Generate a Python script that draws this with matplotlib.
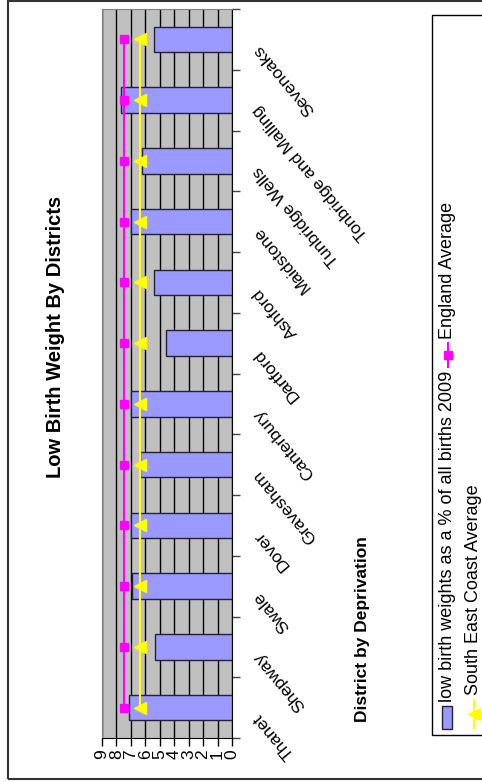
import matplotlib
matplotlib.use("Agg")

import numpy as np
import matplotlib.pyplot as plt
from matplotlib.patches import Rectangle
from matplotlib.lines import Line2D

# dane: odsetek urodzeń z niską masą (2009), od najbardziej deprywowanego dystryktu
districts = ["Thanet", "Shepway", "Swale", "Dover", "Gravesham", "Canterbury",
             "Dartford", "Ashford", "Maidstone", "Tunbridge Wells",
             "Tonbridge and Malling", "Sevenoaks"]
low_birth_pct = [7.1, 5.3, 6.9, 7.0, 6.4, 7.0, 4.6, 5.4, 7.0, 6.2, 7.7, 5.4]
england_avg = 7.5
se_coast_avg = 6.4
value_ticks = list(range(10))

W, H = 482, 782
plt.rcParams["font.family"] = ["Liberation Sans", "DejaVu Sans"]


def fx(x):
    return x / W


def fy(y):
    return 1 - y / H


fig = plt.figure(figsize=(W / 100, H / 100), dpi=100, facecolor="white")

# ramka całego wykresu
fig.patches.append(Rectangle((fx(8), fy(779)), fx(490) - fx(8), fy(1) - fy(779),
                             transform=fig.transFigure, fill=False,
                             edgecolor="#333333", lw=1.5, clip_on=False))

ax = fig.add_axes([fx(102), fy(738), fx(232) - fx(102), fy(9) - fy(738)])
ax.set_facecolor("#C0C0C0")

n = len(districts)
pos = np.arange(n)
ax.barh(pos, low_birth_pct, height=0.42, color="#9999FF",
        edgecolor="#222233", lw=1, zorder=3)
ax.plot(np.full(n, england_avg), pos, color="#FF00FF", lw=1.5,
        marker="s", ms=6, zorder=4)
ax.plot(np.full(n, se_coast_avg), pos, color="#FFFF00", lw=1.5,
        marker="<", ms=8, zorder=4)

ax.set_xlim(9, 0)
ax.set_ylim(-0.5, n - 0.5)
ax.set_xticks(value_ticks)
ax.set_xticklabels([str(v) for v in value_ticks], rotation=90, fontsize=12.5)
ax.tick_params(axis="x", direction="out", length=6, width=1, color="black", pad=2)
ax.grid(axis="x", color="black", lw=1, zorder=1)
ax.set_axisbelow(True)

ax.yaxis.tick_right()
ax.set_yticks(np.arange(-0.5, n, 1.0))
ax.set_yticklabels([])
ax.tick_params(axis="y", direction="out", length=6, width=1, color="#444444")

for side in ("left", "top"):
    ax.spines[side].set_color("#808080")
for side in ("right", "bottom"):
    ax.spines[side].set_color("black")

# etykiety dystryktów, pochylone
for p, name in zip(pos, districts):
    ax.text(1 + 24 / 130, p - 0.12, name, transform=ax.get_yaxis_transform(),
            rotation=130, rotation_mode="anchor", ha="right", va="center",
            fontsize=12.5)

fig.text(fx(56), fy(196), "Low Birth Weight By Districts", rotation=90,
         rotation_mode="anchor", ha="right", va="center",
         fontsize=14.5, fontweight="bold")
fig.text(fx(362), fy(629), "District by Deprivation", rotation=90,
         ha="center", va="center", fontsize=12.5, fontweight="bold")

# legenda
fig.patches.append(Rectangle((fx(432), fy(735)), fx(495) - fx(432), fy(15) - fy(735),
                             transform=fig.transFigure, fill=False,
                             edgecolor="black", lw=1, clip_on=False))
fig.patches.append(Rectangle((fx(442), fy(729)), fx(452) - fx(442), fy(706) - fy(729),
                             transform=fig.transFigure, facecolor="#9999FF",
                             edgecolor="#222233", lw=1))
fig.text(fx(448), fy(702), "low birth weights as a % of all births 2009",
         rotation=90, rotation_mode="anchor", ha="left", va="center", fontsize=13)

fig.lines.append(Line2D([fx(448), fx(448)], [fy(367), fy(343)],
                        transform=fig.transFigure, color="#FF00FF", lw=1.5))
fig.lines.append(Line2D([fx(448)], [fy(355)], transform=fig.transFigure,
                        color="#FF00FF", marker="s", ms=6, lw=0))
fig.text(fx(448), fy(339), "England Average",
         rotation=90, rotation_mode="anchor", ha="left", va="center", fontsize=13)

fig.lines.append(Line2D([fx(474), fx(474)], [fy(728), fy(700)],
                        transform=fig.transFigure, color="#FFFF00", lw=1.5))
fig.lines.append(Line2D([fx(474)], [fy(714)], transform=fig.transFigure,
                        color="#FFFF00", marker="<", ms=8, lw=0))
fig.text(fx(474), fy(695), "South East Coast Average",
         rotation=90, rotation_mode="anchor", ha="left", va="center", fontsize=13)

fig.savefig("out.png", dpi=100, facecolor="white")
